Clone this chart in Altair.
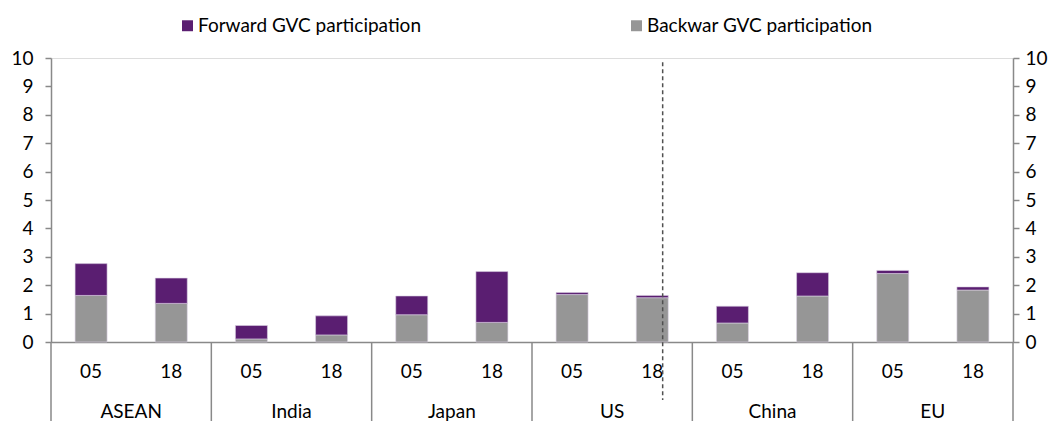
import altair as alt
import pandas as pd

groups = ["ASEAN", "India", "Japan", "US", "China", "EU"]
years = ["05", "18"]
backward = [1.64, 1.36, 0.11, 0.25, 0.96, 0.69, 1.67, 1.56, 0.67, 1.62, 2.41, 1.83]
forward = [1.12, 0.89, 0.47, 0.67, 0.66, 1.79, 0.07, 0.08, 0.59, 0.82, 0.11, 0.11]
series_names = ["Forward GVC participation", "Backwar GVC participation"]
series_colors = ["#5a1e71", "#969696"]
y_ticks = list(range(0, 11))

cats = [f"{g}|{y}" for g in groups for y in years]
rows = []
for i, c in enumerate(cats):
    rows.append({"cat": c, "series": series_names[1], "value": backward[i], "ord": 0})
    rows.append({"cat": c, "series": series_names[0], "value": forward[i], "ord": 1})
df = pd.DataFrame(rows)

FONT = "Lato"
FS = 19
AX = "#898989"
W, H = 962, 284

xscale = alt.Scale(domain=cats, paddingInner=0, paddingOuter=0)
yscale = alt.Scale(domain=[0, 10], nice=False)
xaxis = alt.Axis(
    title=None, labelExpr="split(datum.label, '|')[1]", labelAngle=0,
    ticks=False, grid=False, domain=True, domainColor=AX, domainWidth=1.5,
    labelPadding=29, labelBaseline="middle", labelFontSize=FS, labelFont=FONT,
    labelColor="#000000",
)

def yaxis(orient, pad):
    return alt.Axis(
        title=None, orient=orient, values=y_ticks, grid=False, domain=True,
        domainColor=AX, domainWidth=1.5, ticks=True, tickSize=6, tickColor=AX,
        tickWidth=1.5, labelPadding=pad, labelFontSize=FS, labelFont=FONT,
        labelColor="#000000",
    )

bars = alt.Chart(df).mark_bar(size=32, stroke="#dcd2e4", strokeWidth=0.6).encode(
    x=alt.X("cat:N", scale=xscale, sort=cats, axis=xaxis),
    y=alt.Y("value:Q", stack="zero", scale=yscale, axis=yaxis("left", 12)),
    color=alt.Color(
        "series:N",
        scale=alt.Scale(domain=series_names, range=series_colors),
        legend=alt.Legend(
            title=None, orient="none", legendX=127, legendY=-42,
            direction="horizontal", symbolType="square", symbolSize=120,
            symbolStrokeWidth=0, labelFontSize=FS, labelFont=FONT,
            labelColor="#000000", labelOffset=1, columnPadding=206,
            labelLimit=500,
        ),
    ),
    order=alt.Order("ord:Q"),
)

dash_df = pd.DataFrame({"cat": ["US|18"], "top": [9.85]})
dash = alt.Chart(dash_df).mark_rule(
    strokeDash=[4, 3], color="#505050", strokeWidth=1.5
).encode(
    x=alt.X("cat:N", scale=xscale, sort=cats, axis=xaxis, bandPosition=0.63),
    y=alt.Y("top:Q", scale=yscale, axis=yaxis("right", 6)),
    y2=alt.value(342),
)

sep_df = pd.DataFrame({"cat": [f"{g}|05" for g in groups]})
sep = alt.Chart(sep_df).mark_rule(color=AX, strokeWidth=1.5).encode(
    x=alt.X("cat:N", scale=xscale, sort=cats, axis=xaxis, bandPosition=0),
    y=alt.value(H), y2=alt.value(H + 80),
)
end_df = pd.DataFrame({"cat": [cats[-1]]})
sep_end = alt.Chart(end_df).mark_rule(color=AX, strokeWidth=1.5).encode(
    x=alt.X("cat:N", scale=xscale, sort=cats, axis=xaxis, bandPosition=1),
    y=alt.value(H), y2=alt.value(H + 80),
)

lab_df = pd.DataFrame({"cat": [f"{g}|05" for g in groups], "name": groups})
group_labels = alt.Chart(lab_df).mark_text(
    font=FONT, fontSize=FS, color="#000000", baseline="middle", align="center"
).encode(
    x=alt.X("cat:N", scale=xscale, sort=cats, axis=xaxis, bandPosition=1),
    y=alt.value(H + 70),
    text="name:N",
)

chart = alt.layer(bars, dash, sep, sep_end, group_labels).resolve_axis(
    y="independent"
).properties(
    width=W, height=H,
    autosize=alt.AutoSizeParams(type="none"),
    padding={"left": 43, "top": 50, "right": 35, "bottom": 79},
).configure_view(strokeWidth=0).configure(background="#ffffff")

chart.save("out.html", embed_options={"renderer": "svg", "actions": False})
